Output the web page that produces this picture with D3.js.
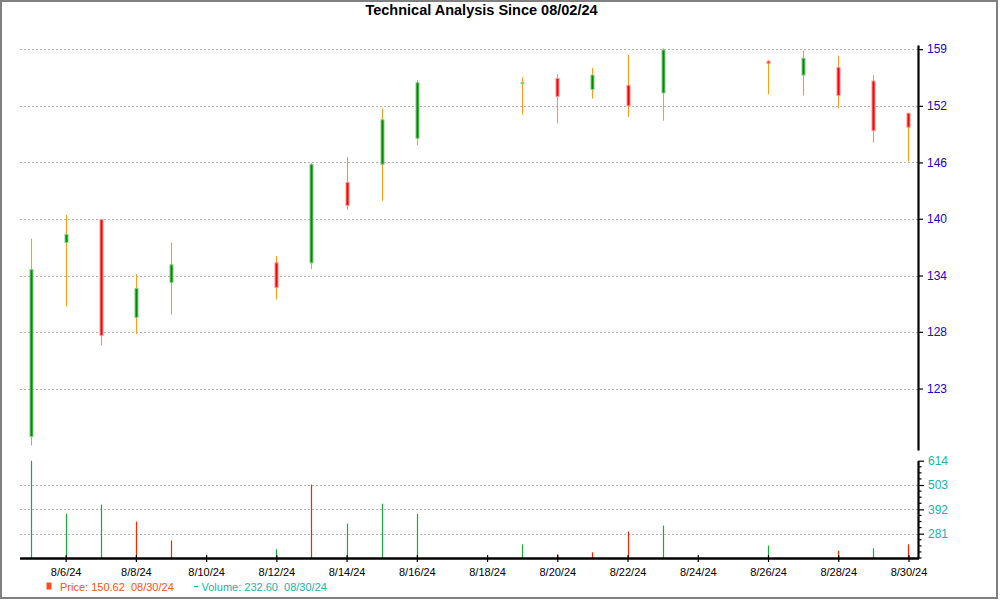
<!DOCTYPE html>
<html><head><meta charset="utf-8">
<script src="https://cdn.jsdelivr.net/npm/d3@7"></script>
<style>
html,body{margin:0;padding:0;background:#fff;}
svg{display:block;font-family:"Liberation Sans",Arial,sans-serif;}
</style></head>
<body><svg id="c" width="1000" height="600"></svg>
<script>
// ---- data ----
const dates = ["2024-08-05","2024-08-06","2024-08-07","2024-08-08","2024-08-09",
  "2024-08-12","2024-08-13","2024-08-14","2024-08-15","2024-08-16",
  "2024-08-19","2024-08-20","2024-08-21","2024-08-22","2024-08-23",
  "2024-08-26","2024-08-27","2024-08-28","2024-08-29","2024-08-30"];
const openP  = [118.4,137.2,139.6,129.6,133.1,135.1,135.1,143.6,145.6,148.5,154.8,155.4,154.1,154.6,153.7,157.45,155.8,156.7,155.1,151.35];
const highP  = [137.6,140.1,139.65,133.95,137.2,135.8,145.7,146.4,151.9,155.2,155.55,155.9,156.65,158.2,159.0,157.6,158.7,158.1,155.8,151.35];
const lowP   = [117.6,130.7,126.9,128.0,129.9,131.4,134.45,140.65,141.6,147.7,151.2,150.2,153.05,150.95,150.5,153.55,153.4,151.9,148.0,145.9];
const closeP = [134.4,138.05,127.85,132.5,134.9,132.6,145.6,141.1,150.6,154.9,154.9,153.3,155.8,152.2,158.8,157.2,157.8,153.4,149.35,149.75];
const volume = [614,372,413,336,250,210,505,327,418,372,232,187,196,291,318,227,165,203,214,232.6];
const volUp  = [1,1,1,0,0,1,0,1,1,1,1,0,0,0,1,1,1,0,1,0];
const priceTicks = [122.8,128.2,133.8,139.7,145.8,152.2,158.9];
const volTicks = [281,392,503,614];
const xTickLabels = ["8/6/24","8/8/24","8/10/24","8/12/24","8/14/24","8/16/24","8/18/24","8/20/24","8/22/24","8/24/24","8/26/24","8/28/24","8/30/24"];
const titleText = "Technical Analysis Since 08/02/24";
const legendPrice = "Price: 150.62  08/30/24";
const legendVolume = "Volume: 232.60  08/30/24";

// ---- layout ----
const svg = d3.select("#c");
const L = 20, R = 918;
const parse = d3.timeParse("%Y-%m-%d");
const parseTick = d3.timeParse("%m/%d/%y");
const dts = dates.map(parse);
const HOUR = 3600e3;
const x = d3.scaleTime()
  .domain([new Date(dts[0].getTime() - 7.2*HOUR), new Date(dts[dts.length-1].getTime() + 6.5*HOUR)])
  .range([L, R]);
const y = d3.scaleLog().domain([117.2, 159.4]).range([450, 45]);
const yv = d3.scaleLinear().domain([170, 614]).range([558, 460.7]);

// border
svg.append("rect").attr("x",1).attr("y",1).attr("width",996).attr("height",597)
  .attr("fill","none").attr("stroke","#808080").attr("stroke-width",2);

// title
svg.append("text").attr("x",481.5).attr("y",15).attr("text-anchor","middle")
  .attr("font-size","14.5px").attr("font-weight","bold").attr("fill","#000").text(titleText);

// gridlines
const grid = svg.append("g").attr("stroke","#b4b4b4").attr("stroke-dasharray","2,2").attr("stroke-width",1);
priceTicks.forEach(t => grid.append("line").attr("x1",L).attr("x2",R)
  .attr("y1",Math.round(y(t))+0.5).attr("y2",Math.round(y(t))+0.5));
volTicks.filter(t => t < 614).forEach(t => grid.append("line").attr("x1",L).attr("x2",R)
  .attr("y1",Math.round(yv(t))+0.5).attr("y2",Math.round(yv(t))+0.5));

// volume bars
svg.append("g").selectAll("line").data(dts.map((d,i)=>i).filter(i=>volume[i] > yv.domain()[0]))
  .join("line")
  .attr("x1", i => Math.round(x(dts[i]))+0.5).attr("x2", i => Math.round(x(dts[i]))+0.5)
  .attr("y1", yv(yv.domain()[0])).attr("y2", i => yv(volume[i]))
  .attr("stroke", i => volUp[i] ? "#1aaa3a" : "#ff2200").attr("stroke-width",1.2);

// candles
const cg = svg.append("g");
dts.forEach((d,i) => {
  const cx = Math.round(x(d)) + 0.5;
  cg.append("line").attr("x1",cx).attr("x2",cx).attr("y1",y(highP[i])).attr("y2",y(lowP[i]))
    .attr("stroke","#ff9a1a").attr("stroke-width",1.1);
  const up = closeP[i] >= openP[i];
  const top = y(Math.max(openP[i],closeP[i])), bot = y(Math.min(openP[i],closeP[i]));
  cg.append("rect").attr("x",cx-1.5).attr("width",3).attr("y",top).attr("height",Math.max(bot-top,0.8))
    .attr("fill", up ? "#008a00" : "#ff0000")
    .attr("stroke", up ? "#86cc86" : "#ff9090").attr("stroke-width",1);
});

// price axis (right)
const pa = svg.append("g").attr("transform",`translate(${R},0)`)
  .call(d3.axisRight(y).tickValues(priceTicks).tickFormat(d3.format(".0f")).tickSize(5).tickSizeOuter(0).tickPadding(4));
pa.select(".domain").attr("stroke","#000").attr("stroke-width",2.2);
pa.selectAll(".tick line").attr("stroke","#000").attr("stroke-width",1.2);
pa.selectAll(".tick text").attr("fill","#2200cc").attr("font-size","12px").attr("font-family","Liberation Sans, Arial, sans-serif");

// volume axis (right)
const va = svg.append("g").attr("transform",`translate(${R},0)`)
  .call(d3.axisRight(yv).tickValues(volTicks).tickFormat(d3.format("d")).tickSize(6).tickSizeOuter(0).tickPadding(4));
va.select(".domain").attr("stroke","#000").attr("stroke-width",2.2);
va.selectAll(".tick line").attr("stroke","#000").attr("stroke-width",1.2);
va.selectAll(".tick text").attr("fill","#20b2aa").attr("font-size","12px").attr("font-family","Liberation Sans, Arial, sans-serif");
const minorV = d3.range(170, 614, 111/4).filter(v => !volTicks.some(t => Math.abs(t-v) < 1));
svg.append("g").selectAll("line").data(minorV).join("line")
  .attr("x1",R).attr("x2",R+3.5).attr("y1",d=>yv(d)).attr("y2",d=>yv(d))
  .attr("stroke","#000").attr("stroke-width",1.2);

// x axis
const xa = svg.append("g").attr("transform",`translate(0,558)`)
  .call(d3.axisBottom(x).tickValues(xTickLabels.map(parseTick)).tickFormat(d3.timeFormat("%-m/%-d/%y")).tickSize(4).tickSizeOuter(0).tickPadding(6));
xa.select(".domain").attr("stroke","#000").attr("stroke-width",2.5).attr("d",`M${L},0.5H${R+1}`);
xa.selectAll(".tick line").attr("stroke","#000").attr("stroke-width",1.2).attr("y1",-3);
xa.selectAll(".tick text").attr("fill","#000").attr("font-size","11px").attr("font-family","Liberation Sans, Arial, sans-serif");

// legend
svg.append("rect").attr("x",46.5).attr("y",582.5).attr("width",5).attr("height",7).attr("fill","#f4511e");
svg.append("text").attr("x",60).attr("y",591).attr("font-size","11px").attr("fill","#f4511e")
  .style("white-space","pre").text(legendPrice);
svg.append("line").attr("x1",194).attr("x2",198.5).attr("y1",586.5).attr("y2",586.5).attr("stroke","#20b2aa").attr("stroke-width",1.2);
svg.append("text").attr("x",201.5).attr("y",591).attr("font-size","11px").attr("fill","#20b2aa")
  .style("white-space","pre").text(legendVolume);
</script></body></html>
